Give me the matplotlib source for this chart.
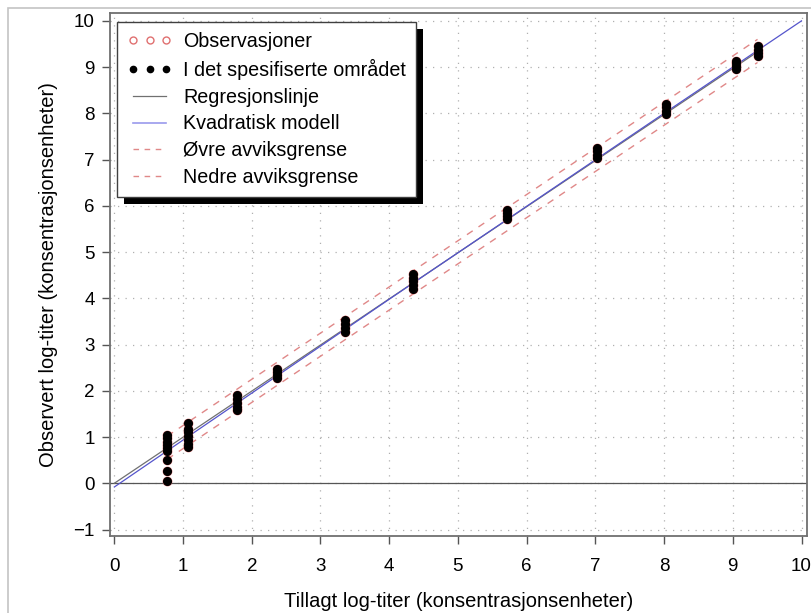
import matplotlib
matplotlib.use("Agg")
import matplotlib.pyplot as plt
from matplotlib.lines import Line2D
from matplotlib.patches import Rectangle

plt.rcParams['font.family'] = ['Liberation Sans', 'DejaVu Sans']

# observed points, one list per added level
levels = [0.77, 1.07, 1.78, 2.36, 3.36, 4.35, 5.72, 7.02, 8.03, 9.05, 9.36]
obs = [
    [0.06, 0.27, 0.50, 0.69, 0.76, 0.83, 0.90, 0.97, 1.04],
    [0.78, 0.86, 0.94, 1.02, 1.10, 1.18, 1.30],
    [1.58, 1.66, 1.74, 1.82, 1.90],
    [2.27, 2.34, 2.40, 2.47],
    [3.27, 3.36, 3.45, 3.53],
    [4.21, 4.29, 4.37, 4.45, 4.52],
    [5.72, 5.78, 5.84, 5.90],
    [7.04, 7.11, 7.18, 7.25],
    [7.99, 8.06, 8.13, 8.20],
    [8.96, 9.02, 9.08, 9.14],
    [9.24, 9.31, 9.38, 9.46],
]

# fitted lines
reg_x = [0.0, 9.36]
reg_y = [0.0, 9.33]
quad_x = [0.0, 2.0, 4.0, 6.0, 8.0, 10.0]
quad_y = [-0.08, 1.95, 3.98, 5.99, 8.0, 10.0]
lim_x = [0.77, 9.36]
upper_y = [1.02, 9.60]
lower_y = [0.52, 9.10]

xticks = list(range(0, 11))
yticks = list(range(-1, 11))

x_all = [lv for lv, ys in zip(levels, obs) for _ in ys]
y_all = [y for ys in obs for y in ys]

fig = plt.figure(figsize=(8.12, 6.13), dpi=100)
# light outer border
fig.patches.append(Rectangle((8 / 812, -0.1), 1.2, 1 - 8 / 613 + 0.1, transform=fig.transFigure,
                             fill=False, edgecolor='#c4c4c4', lw=1.2))
ax = fig.add_axes([110 / 812, 1 - 536 / 613, 697 / 812, 523 / 613])

ax.set_xlim(-0.063, 10.08)
ax.set_ylim(-1.14, 10.17)
ax.set_xticks(xticks)
ax.set_yticks(yticks)
ax.set_yticklabels(['\u22121'] + [str(v) for v in yticks[1:]])
ax.grid(True, linestyle=(0, (1, 5)), color='#b0b0b0', lw=0.9)
ax.set_axisbelow(True)
ax.tick_params(direction='out', length=6, width=1, color='#555555', labelsize=13.5)
ax.tick_params(axis='x', pad=10)
ax.tick_params(axis='y', pad=5)
for s in ax.spines.values():
    s.set_color('#707070')
    s.set_linewidth(1.3)

ax.axhline(0, color='#555555', lw=0.9, zorder=1)

red = '#e08888'
ax.plot(lim_x, upper_y, color=red, lw=1, dashes=(5, 5), zorder=2)
ax.plot(lim_x, lower_y, color=red, lw=1, dashes=(5, 5), zorder=2)
ax.plot(reg_x, reg_y, color='#707070', lw=0.9, zorder=3)
ax.plot(quad_x, quad_y, color='#5555cc', lw=0.9, zorder=3)

ax.plot(x_all, y_all, 'o', ms=6, mfc='none', mec='#e07070', mew=1, zorder=4)
ax.plot(x_all, y_all, 'o', ms=5.5, color='black', zorder=5)

ax.set_xlabel('Tillagt log-titer (konsentrasjonsenheter)', fontsize=14.5, labelpad=12)
ax.set_ylabel('Observert log-titer (konsentrasjonsenheter)', fontsize=14.5, labelpad=11)

handles = [
    Line2D([], [], ls='none', marker='o', ms=5, mfc='none', mec='#e07070', mew=1),
    Line2D([], [], ls='none', marker='o', ms=4.5, color='black'),
    Line2D([], [], color='#707070', lw=0.9),
    Line2D([], [], color='#9a9aec', lw=1.2),
    Line2D([], [], color=red, lw=1, dashes=(4, 4)),
    Line2D([], [], color=red, lw=1, dashes=(4, 4)),
]
labels = ['Observasjoner', 'I det spesifiserte området', 'Regresjonslinje',
          'Kvadratisk modell', 'Øvre avviksgrense', 'Nedre avviksgrense']
leg = ax.legend(handles, labels, loc='upper left', bbox_to_anchor=(0.01, 0.983),
                borderaxespad=0, numpoints=3, fontsize=14.2, handlelength=2.3,
                handletextpad=0.55, labelspacing=0.4, borderpad=0.5,
                fancybox=False, framealpha=1, edgecolor='#404040')
leg.get_frame().set_linewidth(1.0)
leg.set_zorder(6)

# hard black drop shadow behind legend
fig.canvas.draw()
bb = leg.get_window_extent()
inv = ax.transAxes.inverted()
(x0, y0), (x1, y1) = inv.transform([(bb.x0 + 7, bb.y0 - 7), (bb.x1 + 7, bb.y1 - 7)])
ax.add_patch(Rectangle((x0, y0), x1 - x0, y1 - y0, transform=ax.transAxes,
                       facecolor='black', edgecolor='none', zorder=5.9, clip_on=False))

fig.savefig('out.png', dpi=100)
